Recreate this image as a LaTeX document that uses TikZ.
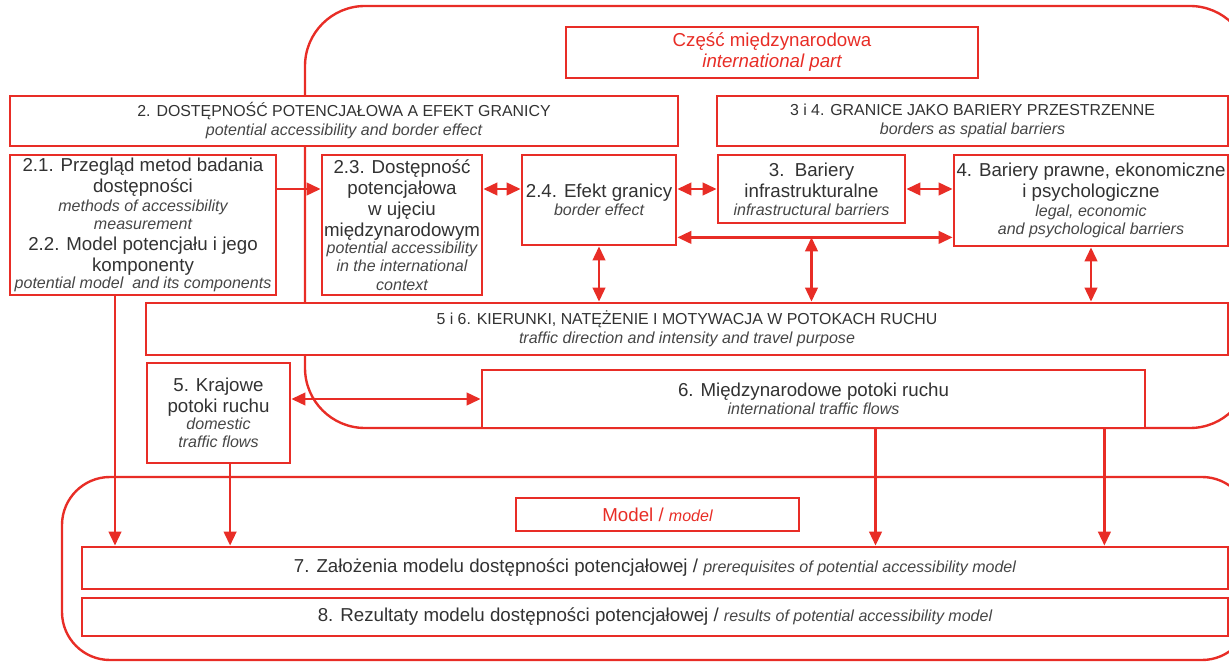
\documentclass[tikz,border=0pt]{standalone}
\usepackage{fontspec}
\setmainfont{Liberation Sans}
\usetikzlibrary{arrows.meta}

\definecolor{bred}{RGB}{232,45,38}
\definecolor{tgray}{RGB}{50,50,50}
\definecolor{igray}{RGB}{70,70,70}
\newcommand\rg{\fontsize{13.3}{15}\selectfont}
\newcommand\hd{\fontsize{11.3}{13.5}\selectfont}
\newcommand\ity{\fontsize{11.4}{13}\selectfont\itshape\color{igray}}
\newcommand\itl{\fontsize{13.3}{15}\selectfont\itshape}

\begin{document}
\begin{tikzpicture}
[x=0.025cm,y=-0.025cm
,box/.style={draw=bred,line width=2pt,fill=white,align=center,inner sep=1pt,text=tgray,font=\rg}
,sz/.style 2 args={minimum width=#1*0.025cm,minimum height=#2*0.025cm}
,ttl/.style={box,text=bred}
,outl/.style={draw=bred,line width=1.7pt,rounded corners=1.5cm}
,ar/.style={draw=bred,line width=1.7pt,-{Triangle[length=10pt,width=9pt]}}
,dar/.style={ar,{Triangle[length=10pt,width=9pt]}-{Triangle[length=10pt,width=9pt]}}
]
\useasboundingbox (0,0) rectangle (1229,662);
% outlines of the two parts
\draw[outl] (305,6) rectangle (1250,428);
\draw[outl,rounded corners=1.2cm] (62,477) rectangle (1250,660);
% international part
\node[ttl,sz={412}{51}] (cz) at (772,52.5) {Część międzynarodowa\\{\itl international part}};
\node[box,sz={668}{50},font=\hd] (h2) at (344,121) {2. DOSTĘPNOŚĆ POTENCJAŁOWA A EFEKT GRANICY\\{\ity potential accessibility and border effect}};
\node[box,sz={511}{50},font=\hd] (h34) at (972.5,121) {3 i 4. GRANICE JAKO BARIERY PRZESTRZENNE\\{\ity borders as spatial barriers}};
\node[box,sz={266}{140}] (b21) at (143,225) {2.1. Przegląd metod badania\\dostępności\\[-2pt]{\ity methods of accessibility}\\[-2pt]{\ity measurement}\\2.2. Model potencjału i jego\\komponenty\\[-3pt]{\ity potential model\ \ and its components}};
\node[box,sz={160}{140}] (b23) at (402,225) {2.3. Dostępność\\potencjałowa\\w ujęciu\\międzynarodowym\\[-3pt]{\ity potential accessibility}\\[-2pt]{\ity in the international}\\[-2pt]{\ity context}};
\node[box,sz={154}{90}] (b24) at (599,200) {2.4. Efekt granicy\\[-2pt]{\ity border effect}};
\node[box,sz={187}{68}] (b3) at (811.5,189) {3.\ \ Bariery\\infrastrukturalne\\[-2pt]{\ity infrastructural barriers}};
\node[box,sz={274}{91}] (b4) at (1091,200.5) {4. Bariery prawne, ekonomiczne\\i psychologiczne\\[-2pt]{\ity legal, economic}\\[-2pt]{\ity and psychological barriers}};
\node[box,sz={1082}{52},font=\hd] (b56) at (687,329) {5 i 6. KIERUNKI, NATĘŻENIE I MOTYWACJA W POTOKACH RUCHU\\{\ity traffic direction and intensity and travel purpose}};
\node[box,sz={143}{100}] (b5) at (218.5,413) {5. Krajowe\\potoki ruchu\\[-3pt]{\ity domestic}\\[-2pt]{\ity traffic flows}};
\node[box,sz={663}{58}] (b6) at (813.5,399) {6. Międzynarodowe potoki ruchu\\[-2pt]{\ity international traffic flows}};
% model part
\node[ttl,sz={283}{33}] (bm) at (657.5,514.5) {Model / {\ity\color{bred}model}};
\node[box,sz={1146}{42}] (b7) at (655,568) {7. Założenia modelu dostępności potencjałowej / {\ity prerequisites of potential accessibility model}};
\node[box,sz={1146}{38}] (b8) at (655,617) {8. Rezultaty modelu dostępności potencjałowej / {\ity results of potential accessibility model}};
% connectors
\draw[ar] (b21.east |- b3.west) -- (b23.west |- b3.west);
\draw[dar] (b23.east |- b3.west) -- (b24.west |- b3.west);
\draw[dar] (b24.east |- b3.west) -- (b3.west);
\draw[dar] (b3.east) -- (b4.west |- b3.east);
\coordinate (h24) at ([yshift=0.225cm]b24.south east);
\draw[dar] (h24) -- (h24 -| b4.west);
\draw[dar] (b24.south) -- (b24.south |- b56.north);
\draw[dar] (b3.south |- h24) -- (b3.south |- b56.north);
\draw[dar] (b4.south) -- (b4.south |- b56.north);
\draw[dar] (b5.east |- b6.west) -- (b6.west);
\draw[ar] ([xshift=-0.7cm]b21.south) -- ([xshift=-0.7cm]b21.south |- b7.north);
\draw[ar] ([xshift=0.29cm]b5.south) -- ([xshift=0.29cm]b5.south |- b7.north);
\draw[ar] ([xshift=1.55cm]b6.south) -- ([xshift=1.55cm]b6.south |- b7.north);
\draw[ar] ([xshift=-1.05cm]b6.south east) -- ([xshift=-1.05cm]b6.south east |- b7.north);
\end{tikzpicture}
\end{document}
